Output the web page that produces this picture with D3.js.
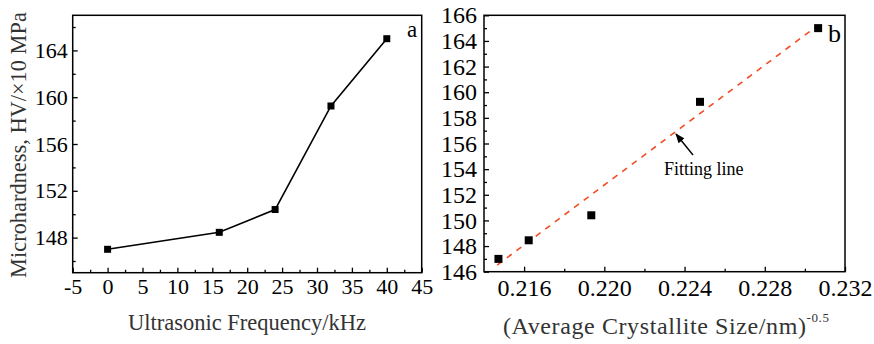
<!DOCTYPE html>
<html>
<head>
<meta charset="utf-8">
<script src="https://cdn.jsdelivr.net/npm/d3@7"></script>
<style>
  body { margin: 0; background: #fff; }
  svg text { font-family: "Liberation Serif", "Times New Roman", serif; }
</style>
</head>
<body>
<svg id="chart" width="874" height="344"></svg>
<script>
// data
const frequency = [0, 16, 24, 32, 40];                 // kHz
const hardness = [147.0, 148.45, 150.4, 159.25, 165.0]; // HV/x10 MPa
const crystalSize = [0.21472, 0.21623, 0.21935, 0.22477, 0.23066]; // (nm)^-0.5
const fitX = [0.21466, 0.23055];
const fitY = [146.52, 165.1];
const leftXTicks = [-5, 0, 5, 10, 15, 20, 25, 30, 35, 40, 45];
const leftYTicks = [148, 152, 156, 160, 164];
const rightXTicks = [0.216, 0.220, 0.224, 0.228, 0.232];
const rightYTicks = [146, 148, 150, 152, 154, 156, 158, 160, 162, 164, 166];

const svg = d3.select("#chart");
const serif = '"Liberation Serif", "Times New Roman", serif';

function frame(g, x, y) {
  g.append("rect")
    .attr("x", x.range()[0]).attr("y", y.range()[1])
    .attr("width", x.range()[1] - x.range()[0])
    .attr("height", y.range()[0] - y.range()[1])
    .attr("fill", "none").attr("stroke", "#000").attr("stroke-width", 1.5);
}

function styleAxis(sel, size) {
  sel.attr("font-family", serif);
  sel.select(".domain").remove();
  sel.selectAll(".tick line").attr("stroke", "#000").attr("stroke-width", 1.3);
  sel.selectAll(".tick text").attr("fill", "#000")
    .style("font-family", serif).style("font-size", size + "px");
}

// ---- panel a ----
const xa = d3.scaleLinear().domain([-5, 45]).range([72.7, 421.7]);
const ya = d3.scaleLinear().domain([145, 167]).range([272.7, 15.3]);
const ga = svg.append("g");

ga.append("g").attr("transform", `translate(0,${ya.range()[0]})`)
  .call(d3.axisBottom(xa).tickValues(d3.range(-2.5, 45, 5)).tickSize(-3).tickFormat(""))
  .call(s => styleAxis(s, 22));
ga.append("g").attr("transform", `translate(0,${ya.range()[0]})`)
  .call(d3.axisBottom(xa).tickValues(leftXTicks).tickSize(-5).tickPadding(6).tickFormat(d => String(d)))
  .call(s => styleAxis(s, 22));
ga.append("g").attr("transform", `translate(${xa.range()[0]},0)`)
  .call(d3.axisLeft(ya).tickValues([146, 150, 154, 158, 162, 166]).tickSize(-3).tickFormat(""))
  .call(s => styleAxis(s, 22));
ga.append("g").attr("transform", `translate(${xa.range()[0]},0)`)
  .call(d3.axisLeft(ya).tickValues(leftYTicks).tickSize(-5).tickPadding(5))
  .call(s => styleAxis(s, 22));
frame(ga, xa, ya);

const ptsA = frequency.map((f, i) => [f, hardness[i]]);
ga.append("path").datum(ptsA)
  .attr("fill", "none").attr("stroke", "#000").attr("stroke-width", 1.6)
  .attr("d", d3.line().x(d => xa(d[0])).y(d => ya(d[1])));
ga.selectAll("rect.pt").data(ptsA).enter().append("rect").attr("class", "pt")
  .attr("x", d => xa(d[0]) - 3.5).attr("y", d => ya(d[1]) - 3.5)
  .attr("width", 7).attr("height", 7).attr("fill", "#000");

ga.append("text").attr("x", 407).attr("y", 37).style("font-size", "23px").text("a");
ga.append("text").attr("x", 247).attr("y", 330).attr("text-anchor", "middle")
  .attr("fill", "#333").style("font-size", "22.5px").text("Ultrasonic Frequency/kHz");
ga.append("text").attr("transform", "translate(26,145) rotate(-90)").attr("text-anchor", "middle")
  .attr("fill", "#333").style("font-size", "22.4px").text("Microhardness, HV/×10 MPa");

// ---- panel b ----
const xb = d3.scaleLinear().domain([0.214, 0.232]).range([484, 845]);
const yb = d3.scaleLinear().domain([146, 166]).range([271.7, 15.3]);
const gb = svg.append("g");

gb.append("g").attr("transform", `translate(0,${yb.range()[0]})`)
  .call(d3.axisBottom(xb).tickValues([0.218, 0.222, 0.226, 0.230]).tickSize(-3).tickFormat(""))
  .call(s => styleAxis(s, 24));
gb.append("g").attr("transform", `translate(0,${yb.range()[0]})`)
  .call(d3.axisBottom(xb).tickValues(rightXTicks).tickSize(-5).tickPadding(7).tickFormat(d3.format(".3f")))
  .call(s => styleAxis(s, 24));
gb.append("g").attr("transform", `translate(${xb.range()[0]},0)`)
  .call(d3.axisLeft(yb).tickValues(d3.range(147, 166, 2)).tickSize(-3).tickFormat(""))
  .call(s => styleAxis(s, 24));
gb.append("g").attr("transform", `translate(${xb.range()[0]},0)`)
  .call(d3.axisLeft(yb).tickValues(rightYTicks).tickSize(-5).tickPadding(7))
  .call(s => styleAxis(s, 24));
frame(gb, xb, yb);

gb.append("path").datum(fitX.map((x, i) => [x, fitY[i]]))
  .attr("fill", "none").attr("stroke", "#f34b23").attr("stroke-width", 1.6)
  .attr("stroke-dasharray", "6,6")
  .attr("d", d3.line().x(d => xb(d[0])).y(d => yb(d[1])));

const ptsB = crystalSize.map((c, i) => [c, hardness[i]]);
gb.selectAll("rect.pt").data(ptsB).enter().append("rect").attr("class", "pt")
  .attr("x", d => xb(d[0]) - 4).attr("y", d => yb(d[1]) - 4)
  .attr("width", 8).attr("height", 8).attr("fill", "#000");

// annotation
const defs = svg.append("defs");
defs.append("marker").attr("id", "arr").attr("viewBox", "0 0 10 10")
  .attr("refX", 9).attr("refY", 5).attr("markerWidth", 7).attr("markerHeight", 7)
  .attr("orient", "auto")
  .append("path").attr("d", "M0,1 L10,5 L0,9 Z").attr("fill", "#000");
gb.append("line").attr("x1", 693).attr("y1", 155).attr("x2", 676).attr("y2", 134)
  .attr("stroke", "#000").attr("stroke-width", 1.4).attr("marker-end", "url(#arr)");
gb.append("text").attr("x", 664).attr("y", 175).style("font-size", "18px").text("Fitting line");

gb.append("text").attr("x", 828).attr("y", 42).style("font-size", "26px").text("b");

const tb = gb.append("text").attr("x", 503).attr("y", 334).attr("fill", "#333")
  .style("font-size", "24px").style("letter-spacing", "0.6px");
tb.append("tspan").text("(Average Crystallite Size/nm)");
tb.append("tspan").attr("dy", -12).style("font-size", "13px").text("-0.5");
</script>
</body>
</html>
